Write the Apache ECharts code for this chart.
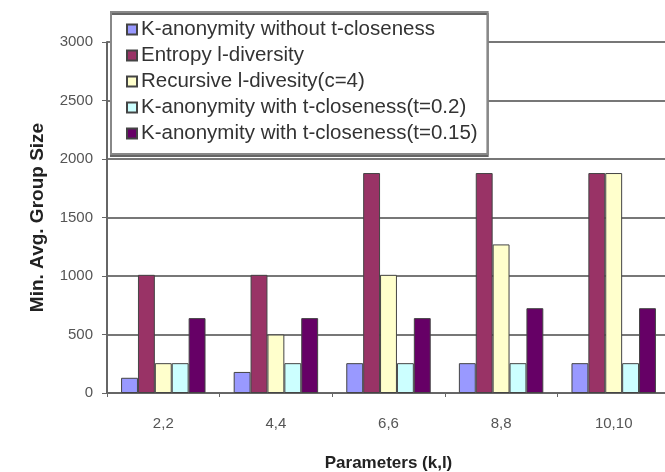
<!DOCTYPE html>
<html><head><meta charset="utf-8">
<script src="https://cdn.jsdelivr.net/npm/echarts@6/dist/echarts.min.js"></script>
<style>html,body{margin:0;padding:0;background:#fff}#c{width:665px;height:472px}</style>
</head><body><div id="c"></div>
<script>
const categories = ['2,2', '4,4', '6,6', '8,8', '10,10'];
const seriesNames = [
  'K-anonymity without t-closeness',
  'Entropy l-diversity',
  'Recursive l-divesity(c=4)',
  'K-anonymity with t-closeness(t=0.2)',
  'K-anonymity with t-closeness(t=0.15)'
];
const kAnonNoT = [130, 180, 255, 255, 255];
const entropyL = [1010, 1010, 1880, 1880, 1880];
const recursiveL = [255, 500, 1010, 1270, 1880];
const kAnonT02 = [255, 255, 255, 255, 255];
const kAnonT015 = [640, 640, 640, 725, 725];
const yTicks = { min: 0, max: 3000, interval: 500 };

const colors = ['#9999FF', '#993366', '#FFFFCC', '#CCFFFF', '#660066'];
const values = [kAnonNoT, entropyL, recursiveL, kAnonT02, kAnonT015];
const font = 'Liberation Sans, Arial, sans-serif';

const chart = echarts.init(document.getElementById('c'), null, { renderer: 'canvas' });
chart.setOption({
  animation: false,
  backgroundColor: '#fff',
  textStyle: { fontFamily: font },
  grid: { left: 107, right: -5, top: 42, bottom: 79, containLabel: false, outerBoundsMode: 'none' },
  legend: {
    orient: 'vertical',
    left: 111, top: 12,
    padding: [7, 10, 10, 15],
    itemGap: 5,
    itemWidth: 10, itemHeight: 10,
    icon: 'rect',
    backgroundColor: '#fff',
    borderColor: '#888', borderWidth: 2,
    shadowColor: '#666', shadowOffsetY: 2, shadowOffsetX: 0, shadowBlur: 0,
    textStyle: { fontSize: 20.5, color: '#333', fontFamily: font, lineHeight: 20, padding: [0, 0, 0, -1] },
    data: seriesNames
  },
  xAxis: {
    type: 'category',
    data: categories,
    name: 'Parameters (k,l)',
    nameLocation: 'middle',
    nameGap: 62,
    nameTextStyle: { fontSize: 17, fontWeight: 'bold', color: '#222', fontFamily: font },
    axisLine: { lineStyle: { color: '#666', width: 2 } },
    axisTick: { show: true, length: 4, lineStyle: { color: '#666' } },
    axisLabel: { fontSize: 15, color: '#555', margin: 23 }
  },
  yAxis: {
    type: 'value',
    min: yTicks.min, max: yTicks.max, interval: yTicks.interval,
    name: 'Min. Avg. Group Size',
    nameLocation: 'middle',
    nameGap: 60,
    nameTextStyle: { fontSize: 19, fontWeight: 'bold', color: '#222', fontFamily: font },
    axisLine: { show: true, lineStyle: { color: '#666', width: 2 } },
    axisTick: { show: true, length: 5, lineStyle: { color: '#666' } },
    axisLabel: { fontSize: 15, color: '#555', margin: 14, formatter: v => String(v) },
    splitLine: { lineStyle: { color: '#777', width: 2 } }
  },
  series: seriesNames.map((n, i) => ({
    name: n,
    type: 'bar',
    data: values[i],
    barGap: '0%',
    barCategoryGap: '25%',
    itemStyle: { color: colors[i], borderColor: '#444', borderWidth: 1 }
  }))
});
</script></body></html>
